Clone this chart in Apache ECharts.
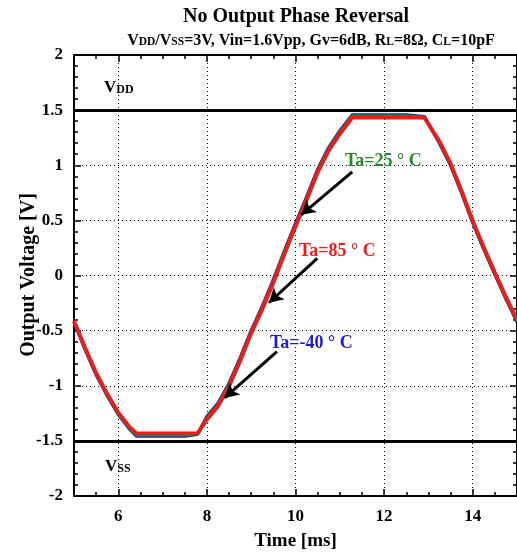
<!DOCTYPE html>
<html><head><meta charset="utf-8">
<script src="https://cdn.jsdelivr.net/npm/echarts@6/dist/echarts.min.js"></script>
<style>html,body{margin:0;padding:0;background:#fff}#c{width:517px;height:554px}</style>
</head><body><div id="c"></div>
<script>
// ---- data ----
const timeMs = [5.0, 5.25, 5.5, 5.75, 6.0, 6.25, 6.41, 7.0, 7.5, 7.79, 8.0, 8.25, 8.5, 8.75, 9.0, 9.25, 9.5, 9.75, 10.0, 10.25, 10.5, 10.75, 11.0, 11.28, 12.0, 12.5, 12.91, 13.25, 13.5, 13.75, 14.0, 14.25, 14.5, 14.75, 15.0];
const voutM40 = [-0.42, -0.67, -0.90, -1.09, -1.26, -1.39, -1.455, -1.455, -1.455, -1.44, -1.28, -1.16, -0.98, -0.75, -0.50, -0.28, -0.04, 0.22, 0.47, 0.71, 0.96, 1.16, 1.31, 1.455, 1.455, 1.455, 1.44, 1.20, 1.00, 0.75, 0.48, 0.24, 0.01, -0.21, -0.42];
const vout25 = [-0.415, -0.66, -0.89, -1.08, -1.25, -1.38, -1.445, -1.445, -1.445, -1.435, -1.295, -1.175, -0.995, -0.765, -0.515, -0.295, -0.055, 0.205, 0.455, 0.695, 0.945, 1.145, 1.295, 1.445, 1.445, 1.445, 1.435, 1.21, 1.01, 0.76, 0.49, 0.25, 0.02, -0.20, -0.41];
const vout85 = [-0.41, -0.65, -0.88, -1.07, -1.24, -1.37, -1.43, -1.43, -1.43, -1.43, -1.31, -1.19, -1.01, -0.78, -0.53, -0.31, -0.07, 0.19, 0.44, 0.68, 0.93, 1.13, 1.28, 1.43, 1.43, 1.43, 1.43, 1.22, 1.02, 0.77, 0.50, 0.26, 0.03, -0.19, -0.40];
const xTickLabels = [6, 8, 10, 12, 14];
const railLevels = [1.5, -1.5];
const seriesNames = ['Ta=-40° C', 'Ta=25° C', 'Ta=85° C'];
// annotation arrows: [start, tip] in data units (ms, V)
const arrow25 = [[11.28, 0.94], [10.13, 0.55]];
const arrow85 = [[10.49, 0.156], [9.40, -0.247]];
const arrowM40 = [[9.58, -0.69], [8.40, -1.11]];

const F = '"Liberation Serif","Times New Roman",serif';
const BLUE = '#1c1cd2', GREEN = '#1f8c1f', RED = '#ff1414';
const chart = echarts.init(document.getElementById('c'), null, {renderer: 'canvas'});
const gridPos = {left: 74, right: 0, top: 55, bottom: 58, containLabel: false, outerBoundsMode: 'none'};
const pair = arr => timeMs.map((t, i) => [t, arr[i]]);
const labelFmt = v => (xTickLabels.indexOf(v) >= 0 ? String(v) : '');
const axisLineStyle = {color: '#000', width: 2};
const tickStyle = {color: '#000', width: 1.5};

chart.setOption({
  animation: false,
  backgroundColor: '#fff',
  grid: [Object.assign({}, gridPos), Object.assign({}, gridPos)],
  xAxis: [
    {gridIndex: 0, type: 'value', position: 'bottom', min: 5, max: 15, splitNumber: 5,
     axisLine: {onZero: false, lineStyle: axisLineStyle}, axisTick: {inside: true, length: 7, lineStyle: tickStyle},
     axisLabel: {formatter: labelFmt, fontFamily: F, fontWeight: 'bold', fontSize: 17, color: '#000', margin: 12},
     splitLine: {show: true, lineStyle: {color: '#000', type: [1, 3], width: 1}},
     name: 'Time [ms]', nameLocation: 'middle', nameGap: 36,
     nameTextStyle: {fontFamily: F, fontWeight: 'bold', fontSize: 19, color: '#000'}},
    {gridIndex: 0, type: 'value', position: 'top', min: 5, max: 15, splitNumber: 5,
     axisLine: {onZero: false, lineStyle: axisLineStyle}, axisTick: {inside: true, length: 7, lineStyle: tickStyle},
     axisLabel: {show: false}, splitLine: {show: false}},
    {gridIndex: 1, type: 'value', position: 'bottom', min: 5, max: 15, interval: 0.5,
     axisLine: {show: false, onZero: false}, axisTick: {inside: true, length: 4, lineStyle: tickStyle},
     axisLabel: {show: false}, splitLine: {show: false}},
    {gridIndex: 1, type: 'value', position: 'top', min: 5, max: 15, interval: 0.5,
     axisLine: {show: false, onZero: false}, axisTick: {inside: true, length: 4, lineStyle: tickStyle},
     axisLabel: {show: false}, splitLine: {show: false}}
  ],
  yAxis: [
    {gridIndex: 0, type: 'value', position: 'left', min: -2, max: 2, interval: 0.5,
     axisLine: {onZero: false, lineStyle: axisLineStyle}, axisTick: {inside: true, length: 7, lineStyle: tickStyle},
     minorTick: {show: true, splitNumber: 5, length: 4, lineStyle: tickStyle},
     axisLabel: {fontFamily: F, fontWeight: 'bold', fontSize: 17, color: '#000', margin: 11},
     splitLine: {show: true, lineStyle: {color: '#000', type: [1, 3], width: 1}}},
    {gridIndex: 0, type: 'value', position: 'right', min: -2, max: 2, interval: 0.5,
     axisLine: {onZero: false, lineStyle: axisLineStyle}, axisTick: {inside: true, length: 7, lineStyle: tickStyle},
     minorTick: {show: true, splitNumber: 5, length: 4, lineStyle: tickStyle},
     axisLabel: {show: false}, splitLine: {show: false}},
    {gridIndex: 1, type: 'value', min: -2, max: 2, show: false, axisLine: {onZero: false}}
  ],
  series: [
    {name: seriesNames[0], type: 'line', xAxisIndex: 0, yAxisIndex: 0, data: pair(voutM40),
     showSymbol: false, symbol: 'none', lineStyle: {color: BLUE, width: 3.5}, itemStyle: {color: BLUE}, z: 2,
     markLine: {silent: true, symbol: ['none', 'arrow'], symbolSize: [12, 14], label: {show: false},
       lineStyle: {color: '#000', width: 3, type: 'solid'},
       data: [arrow25, arrow85, arrowM40].map(a => [{coord: a[0]}, {coord: a[1]}])}},
    {name: seriesNames[1], type: 'line', xAxisIndex: 0, yAxisIndex: 0, data: pair(vout25),
     showSymbol: false, symbol: 'none', lineStyle: {color: GREEN, width: 3.5}, itemStyle: {color: GREEN}, z: 3},
    {name: seriesNames[2], type: 'line', xAxisIndex: 0, yAxisIndex: 0, data: pair(vout85),
     showSymbol: false, symbol: 'none', lineStyle: {color: RED, width: 3.5}, itemStyle: {color: RED}, z: 4,
     markLine: {silent: true, symbol: 'none', label: {show: false},
       lineStyle: {color: '#000', width: 3, type: 'solid'},
       data: railLevels.map(v => ({yAxis: v}))}}
  ],
  graphic: [
    {type: 'text', x: 296, y: 17, z: 10, style: {text: 'No Output Phase Reversal', font: 'bold 20px ' + F, fill: '#000', align: 'center', verticalAlign: 'middle'}},
    {type: 'text', x: 311, y: 41, z: 10, style: {
      text: '{b|V}{s|DD}{b|/V}{s|SS}{b|=3V, Vin=1.6Vpp, Gv=6dB, R}{s|L}{b|=8Ω, C}{s|L}{b|=10pF}',
      align: 'center', verticalAlign: 'middle',
      rich: {b: {font: 'bold 16px ' + F, fill: '#000', verticalAlign: 'bottom'}, s: {font: 'bold 11.5px ' + F, fill: '#000', verticalAlign: 'bottom', padding: [0, 0, 1, 0]}}}},
    {type: 'text', x: 29, y: 275, rotation: Math.PI / 2, z: 10, style: {text: 'Output Voltage [V]', font: 'bold 20px ' + F, fill: '#000', align: 'center', verticalAlign: 'middle'}},
    {type: 'text', x: 104, y: 88, z: 10, style: {
      text: '{b|V}{s|DD}', verticalAlign: 'middle',
      rich: {b: {font: 'bold 17px ' + F, fill: '#000', verticalAlign: 'bottom'}, s: {font: 'bold 12px ' + F, fill: '#000', verticalAlign: 'bottom', padding: [0, 0, 1, 0]}}}},
    {type: 'text', x: 105, y: 467, z: 10, style: {
      text: '{b|V}{s|SS}', verticalAlign: 'middle',
      rich: {b: {font: 'bold 17px ' + F, fill: '#000', verticalAlign: 'bottom'}, s: {font: 'bold 12px ' + F, fill: '#000', verticalAlign: 'bottom', padding: [0, 0, 1, 0]}}}},
    {type: 'text', x: 345, y: 161, z: 10, style: {text: 'Ta=25 ° C', font: 'bold 18px ' + F, fill: GREEN, verticalAlign: 'middle'}},
    {type: 'text', x: 299, y: 251, z: 10, style: {text: 'Ta=85 ° C', font: 'bold 18px ' + F, fill: RED, verticalAlign: 'middle'}},
    {type: 'text', x: 270, y: 343, z: 10, style: {text: 'Ta=-40 ° C', font: 'bold 18px ' + F, fill: BLUE, verticalAlign: 'middle'}}
  ]
});
</script></body></html>
